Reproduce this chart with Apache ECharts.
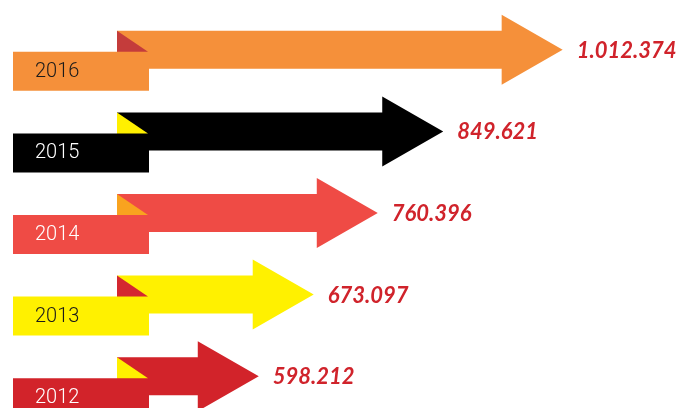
<!DOCTYPE html>
<html>
<head>
<meta charset="utf-8">
<title>arrows</title>
<script src="https://cdn.jsdelivr.net/npm/echarts@6/dist/echarts.min.js"></script>
<style>
    html,body{margin:0;padding:0;background:#fff;}
    #main{width:697px;height:408px;}
</style>
</head>
<body>
<div id="main"></div>
<script>
    // data
    let years = ['2016', '2015', '2014', '2013', '2012'];
    let values = [1012374, 849621, 760396, 673097, 598212];
    let valueLabels = ['1.012.374', '849.621', '760.396', '673.097', '598.212'];

    // colours per row: arrow, fold, year text
    let arrowColors = ['#F5903A', '#000000', '#EF4B45', '#FFF100', '#D2232A'];
    let foldColors = ['#C43C3B', '#FFF000', '#F9A31F', '#D42730', '#FFF000'];
    let yearColors = ['#1a1a1a', '#ffffff', '#ffffff', '#1a1a1a', '#ffffff'];

    let myChart = echarts.init(document.getElementById('main'));

    function renderArrow(params, api) {
        let i = params.dataIndex;
        let tip = api.coord([api.value(0), api.value(1)]);
        let x0 = params.coordSys.x;
        let cy = tip[1];
        let tx = tip[0];
        let headLen = 61;
        let bx = tx - headLen;

        return {
            type: 'group',
            children: [
                {
                    type: 'polygon',
                    shape: {
                        points: [
                            [x0, cy - 19], [bx, cy - 19], [bx, cy - 35], [tx, cy],
                            [bx, cy + 35], [bx, cy + 19], [x0, cy + 19]
                        ]
                    },
                    style: {fill: arrowColors[i]}
                },
                {
                    type: 'rect',
                    shape: {x: x0 - 104, y: cy + 2, width: 136, height: 39},
                    style: {fill: arrowColors[i]}
                },
                {
                    type: 'polygon',
                    shape: {points: [[x0, cy - 19], [x0, cy + 2], [x0 + 31, cy + 2]]},
                    style: {fill: foldColors[i]}
                },
                {
                    type: 'text',
                    style: {
                        x: x0 - 82, y: cy + 22,
                        text: years[i],
                        fill: yearColors[i],
                        font: '300 20px Roboto',
                        verticalAlign: 'middle'
                    }
                },
                {
                    type: 'text',
                    style: {
                        x: tx + 14, y: cy + 1,
                        text: valueLabels[i],
                        fill: '#D0232B',
                        font: 'italic bold 22px Lato',
                        verticalAlign: 'middle'
                    }
                }
            ]
        };
    }

    let option = {
        animation: false,
        // 5 bands of ~81.5px, last one runs past the bottom edge
        grid: {left: 117, right: 4, top: 9, height: 408, outerBoundsMode: 'none'},
        xAxis: {
            type: 'value',
            min: 405000,
            max: 1190000,
            show: false
        },
        yAxis: {
            type: 'category',
            data: years,
            inverse: true,
            show: false
        },
        series: [{
            type: 'custom',
            renderItem: renderArrow,
            encode: {x: 0, y: 1},
            data: values.map(function (v, i) {
                return [v, i];
            })
        }]
    };

    myChart.setOption(option);
</script>
</body>
</html>
